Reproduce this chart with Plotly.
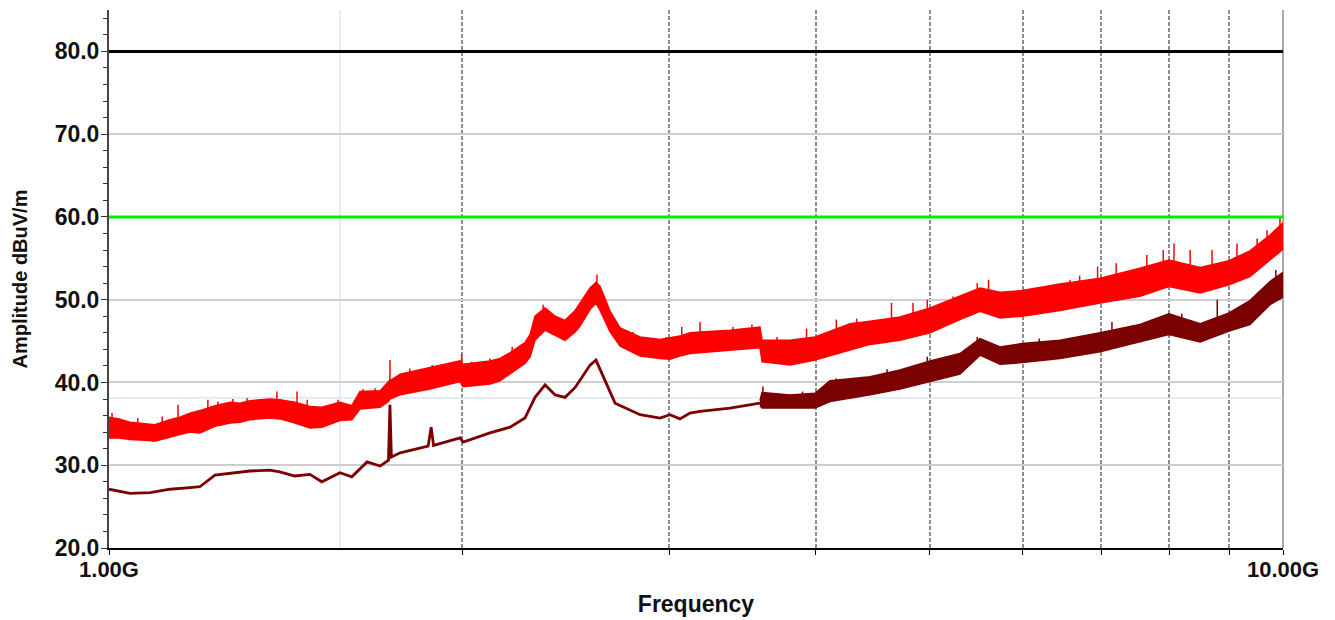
import plotly.graph_objects as go

# ---- Peak trace (red): frequency in GHz, upper / lower envelope in dBuV/m ----
peak_f = [1.000, 1.020, 1.042, 1.084, 1.094, 1.127, 1.149, 1.172, 1.195, 1.231,
          1.268, 1.293, 1.318, 1.371, 1.398, 1.440, 1.483, 1.518, 1.573, 1.610,
          1.636, 1.702, 1.730, 1.735, 1.740, 1.770, 1.877, 1.991, 2.003, 2.111,
          2.153, 2.196, 2.261, 2.284, 2.306, 2.352, 2.399, 2.446, 2.495, 2.519,
          2.569, 2.599, 2.620, 2.672, 2.725, 2.834, 2.947, 3.005, 3.064, 3.125,
          3.187, 3.381, 3.585, 3.600, 3.803, 3.994, 4.113, 4.278, 4.449, 4.718,
          5.005, 5.307, 5.520, 5.741, 5.995, 6.457, 6.985, 7.553, 7.995, 8.501,
          8.995, 9.372, 9.748, 10.000]
peak_hi = [35.8, 35.6, 35.2, 35.0, 34.9, 35.5, 35.8, 36.3, 36.6, 37.2,
           37.6, 37.5, 37.8, 38.0, 37.9, 37.6, 37.1, 37.0, 37.6, 37.2,
           38.9, 39.0, 40.0, 40.3, 40.3, 41.0, 41.8, 42.6, 42.2, 42.6,
           42.9, 43.6, 44.8, 45.8, 48.0, 49.0, 48.0, 47.5, 48.7, 49.6,
           51.4, 52.1, 51.6, 48.6, 46.6, 45.5, 45.2, 45.4, 45.6, 46.0,
           46.1, 46.3, 46.7, 45.1, 45.1, 45.5, 46.2, 47.1, 47.4, 47.9,
           49.0, 50.4, 51.4, 50.9, 51.1, 51.9, 52.6, 53.8, 54.8, 53.9,
           54.7, 55.9, 57.8, 59.3]
peak_lo = [33.3, 33.3, 33.1, 33.0, 32.9, 33.4, 33.7, 34.0, 33.9, 34.7,
           35.1, 35.2, 35.5, 35.7, 35.6, 35.1, 34.5, 34.6, 35.4, 35.5,
           36.8, 37.0, 37.7, 38.0, 38.0, 38.5, 39.2, 40.1, 39.5, 39.8,
           40.2, 41.0, 42.3, 43.1, 45.1, 46.3, 45.7, 45.1, 46.1, 46.8,
           48.8, 49.6, 48.7, 46.1, 44.4, 43.2, 42.9, 42.8, 43.2, 43.5,
           43.6, 43.9, 44.2, 42.5, 42.1, 42.7, 43.2, 43.9, 44.6, 45.1,
           46.0, 47.6, 48.6, 47.8, 48.0, 48.7, 49.6, 50.4, 51.6, 50.8,
           51.8, 52.8, 54.8, 56.1]

# ---- Peak trace spikes: frequency, base and tip (dBuV/m) ----
pspike_f = [1.006, 1.058, 1.110, 1.145, 1.195, 1.214, 1.238, 1.275, 1.311, 1.390,
            1.446, 1.475, 1.543, 1.567, 1.646, 1.685, 1.735,
            1.804, 1.885, 1.997, 2.037, 2.111, 2.205, 2.261, 2.343, 2.604, 2.725,
            2.796, 2.907, 2.984, 3.075, 3.168,
            3.187, 3.400, 3.529, 3.707, 3.928, 4.164, 4.334, 4.640, 4.840, 4.977,
            5.236, 5.490, 5.613,
            6.585, 6.711, 6.951, 7.209, 7.656, 7.907, 8.075, 8.335, 8.700, 9.137,
            9.505, 9.691, 9.941]
pspike_base = [35.0, 34.6, 34.8, 35.2, 35.8, 36.0, 36.4, 36.8, 37.0, 37.2,
               37.0, 36.6, 36.4, 36.8, 38.2, 38.3, 39.5,
               40.0, 41.0, 41.8, 41.6, 42.0, 42.8, 43.8, 47.8, 51.2, 46.2,
               45.0, 44.8, 44.8, 45.2, 45.4,
               45.5, 45.8, 46.0, 44.5, 44.8, 45.8, 46.2, 47.2, 47.8, 48.3,
               49.4, 50.5, 50.8,
               51.6, 51.8, 52.1, 52.6, 53.2, 53.8, 54.2, 53.6, 53.8, 54.6,
               55.4, 56.6, 58.3]
pspike_top = [36.3, 35.7, 35.9, 37.3, 36.5, 37.9, 37.7, 38.0, 38.1, 38.9,
              38.9, 37.9, 37.3, 37.9, 39.2, 39.3, 42.7,
              41.7, 42.1, 43.4, 42.5, 42.9, 44.3, 44.8, 49.4, 53.0, 46.6,
              46.1, 45.4, 45.5, 46.7, 46.0,
              47.3, 46.7, 47.0, 45.5, 46.5, 47.6, 47.7, 49.6, 49.6, 50.0,
              50.4, 52.0, 52.4,
              52.4, 52.9, 54.0, 54.4, 55.4, 56.0, 56.8, 56.0, 56.0, 56.8,
              57.4, 58.4, 59.9]

# ---- Average trace (dark red), thin part 1.0 - 3.6 GHz ----
avg_f = [1.000, 1.042, 1.084, 1.127, 1.172, 1.195, 1.231, 1.268, 1.318, 1.371,
         1.398, 1.440, 1.483, 1.518, 1.573, 1.610, 1.659, 1.702, 1.730, 1.735,
         1.740, 1.770, 1.870, 1.881, 1.890, 1.991, 2.003, 2.111, 2.196, 2.261,
         2.306, 2.352, 2.399, 2.446, 2.495, 2.569, 2.599, 2.698, 2.834, 2.947,
         3.005, 3.064, 3.125, 3.187, 3.381, 3.585]
avg_db = [27.1, 26.6, 26.7, 27.1, 27.3, 27.4, 28.8, 29.0, 29.3, 29.4,
          29.2, 28.7, 28.9, 28.0, 29.1, 28.6, 30.4, 29.9, 30.6, 37.3,
          31.0, 31.5, 32.3, 34.6, 32.4, 33.3, 32.8, 33.9, 34.6, 35.7,
          38.2, 39.7, 38.5, 38.2, 39.4, 42.1, 42.7, 37.5, 36.1, 35.7,
          36.1, 35.6, 36.3, 36.5, 36.9, 37.5]

# ---- Average trace (dark red), noisy part 3.6 - 10 GHz ----
avg2_f = [3.585, 3.600, 3.803, 3.994, 4.113, 4.449, 4.718, 5.005, 5.307, 5.520,
          5.741, 5.995, 6.457, 6.985, 7.553, 7.995, 8.501, 8.995, 9.372, 9.748,
          10.000]
avg2_hi = [37.8, 38.8, 38.5, 38.7, 40.2, 40.7, 41.5, 42.6, 43.5, 45.3,
           44.3, 44.7, 45.1, 46.0, 47.0, 48.3, 47.1, 48.4, 49.9, 52.2,
           53.3]
avg2_lo = [37.2, 36.9, 36.9, 36.9, 37.7, 38.5, 39.2, 40.1, 41.0, 43.3,
           42.2, 42.4, 42.9, 43.7, 44.9, 45.8, 44.9, 46.2, 47.0, 49.4,
           50.3]

# ---- Average trace spikes ----
aspike_f = [3.606, 3.897, 4.164, 4.600, 4.977, 5.490, 6.200, 7.150, 8.200, 8.790, 9.860]
aspike_base = [38.3, 38.3, 39.4, 40.8, 41.8, 44.4, 44.4, 46.0, 46.9, 47.4, 52.3]
aspike_top = [39.5, 38.9, 40.5, 41.6, 43.1, 45.5, 45.3, 47.3, 48.3, 50.0, 53.6]

# ---- Limit lines and cursors ----
limit_f = [1.0, 10.0]
limit_peak = [80.0, 80.0]
limit_avg = [60.0, 60.0]
cursor_f = 1.573
cursor_db = 38.13

x_ticks = [1, 2, 3, 4, 5, 6, 7, 8, 9, 10]
x_ticktext = ["1.00G", "", "", "", "", "", "", "", "", "10.00G"]

RED = "#ff0000"
DARK = "#7b0000"


def spikes(f, base, top):
    xs, ys = [], []
    for fi, b, t in zip(f, base, top):
        xs += [fi, fi, None]
        ys += [b, t, None]
    return xs, ys


fig = go.Figure()

# cursor lines
fig.add_trace(go.Scatter(x=[cursor_f, cursor_f], y=[20, 85], mode="lines",
                         line=dict(color="#c9dbf2", width=1), hoverinfo="skip"))
fig.add_trace(go.Scatter(x=limit_f, y=[cursor_db, cursor_db], mode="lines",
                         line=dict(color="#c9dbf2", width=1), hoverinfo="skip"))

# peak band
fig.add_trace(go.Scatter(x=peak_f + peak_f[::-1], y=peak_hi + peak_lo[::-1],
                         mode="lines", fill="toself", fillcolor=RED,
                         line=dict(color=RED, width=1.5)))
sx, sy = spikes(pspike_f, pspike_base, pspike_top)
fig.add_trace(go.Scatter(x=sx, y=sy, mode="lines", line=dict(color=RED, width=1.5)))

# average thin line
fig.add_trace(go.Scatter(x=avg_f, y=avg_db, mode="lines",
                         line=dict(color=DARK, width=2.8)))
# average noisy band
fig.add_trace(go.Scatter(x=avg2_f + avg2_f[::-1], y=avg2_hi + avg2_lo[::-1],
                         mode="lines", fill="toself", fillcolor=DARK,
                         line=dict(color=DARK, width=1.5)))
sx, sy = spikes(aspike_f, aspike_base, aspike_top)
fig.add_trace(go.Scatter(x=sx, y=sy, mode="lines", line=dict(color=DARK, width=1.5)))

# limits
fig.add_trace(go.Scatter(x=limit_f, y=limit_peak, mode="lines",
                         line=dict(color="#000000", width=3)))
fig.add_trace(go.Scatter(x=limit_f, y=limit_avg, mode="lines",
                         line=dict(color="#00ee00", width=3)))

FONT = "Liberation Sans, Arial, sans-serif"
ybold = dict(family=FONT, size=23, color="#111111", weight="bold")
xbold = dict(family=FONT, size=22, color="#111111", weight="bold")

# the page body has an 8px default margin, so the figure is shifted by 8px;
# margins below are chosen so the plot area sits at x 109..1283, y 10..548
fig.update_layout(
    width=1327, height=612,
    margin=dict(l=101, r=52, t=2, b=72),
    paper_bgcolor="white", plot_bgcolor="white",
    showlegend=False,
    xaxis=dict(
        type="log", range=[0, 1], automargin=False,
        tickvals=x_ticks, ticktext=x_ticktext,
        ticks="outside", ticklen=5, tickcolor="#000", tickwidth=1,
        ticklabelstandoff=-4,
        showgrid=True, gridcolor="#8e8e8e", gridwidth=1.5, griddash="4px,2px",
        showline=True, linecolor="#000", linewidth=2,
        zeroline=False,
        tickfont=xbold,
        title=dict(text="Frequency", font=dict(family=FONT, size=23, color="#111", weight="bold"),
                   standoff=14),
    ),
    yaxis=dict(
        range=[20, 85], tick0=0, dtick=10, tickformat=".1f", automargin=False,
        ticks="outside", ticklen=6, tickcolor="#333", tickwidth=1,
        ticklabelstandoff=-3,
        minor=dict(dtick=2, tick0=0, ticks="outside", ticklen=4, tickcolor="#333", showgrid=False),
        showgrid=True, gridcolor="#cfcfcf", gridwidth=1.5,
        showline=True, linecolor="#444", linewidth=2,
        zeroline=False,
        tickfont=ybold,
        title=dict(text="Amplitude dBuV/m", font=dict(family=FONT, size=20, color="#111", weight="bold"),
                   standoff=22),
    ),
    yaxis2=dict(
        overlaying="y", anchor="x", side="left", range=[20, 85], tick0=0, dtick=10,
        automargin=False,
        ticks="inside", ticklen=6, tickcolor="#333", tickwidth=1,
        minor=dict(dtick=2, tick0=0, ticks="inside", ticklen=4, tickcolor="#333", showgrid=False),
        showgrid=False, showticklabels=False, showline=False, zeroline=False,
    ),
    shapes=[dict(type="line", xref="paper", yref="paper", x0=1, x1=1, y0=0, y1=1,
                 line=dict(color="#8c8c8c", width=1.5), layer="below")],
)

fig.write_html("out.html")
